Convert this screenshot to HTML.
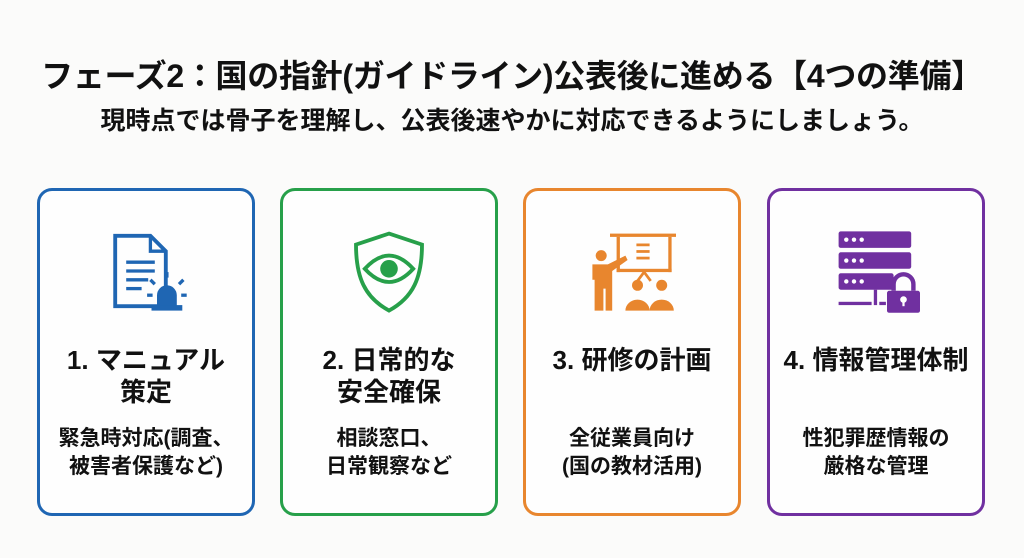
<!DOCTYPE html>
<html><head><meta charset="utf-8"><style>
body{margin:0;width:1024px;height:558px;background:#fbfbfa;font-family:"Liberation Sans","Noto Sans CJK JP",sans-serif;color:#111;position:relative;overflow:hidden}
.t{position:absolute;left:0;width:1024px;text-align:center;font-weight:bold;white-space:nowrap}
.card{position:absolute;top:188px;width:212px;height:322px;border:3px solid;border-radius:15px;box-sizing:content-box;background:#fefefe}
.ic{position:absolute;left:62px;top:36px;width:88px;height:88px}
.h{position:absolute;left:-10px;width:232px;text-align:center;font-weight:bold;font-size:26px;line-height:32px;top:153px;white-space:nowrap}
.d{position:absolute;left:-10px;width:232px;text-align:center;font-weight:bold;font-size:21px;line-height:28px;top:234px;white-space:nowrap}
</style></head><body>
<div class="t" style="top:51px;font-size:32px;letter-spacing:-0.3px">フェーズ2：国の指針(ガイドライン)公表後に進める【4つの準備】</div>
<div class="t" style="top:101px;font-size:25px">現時点では骨子を理解し、公表後速やかに対応できるようにしましょう。</div>

<div class="card" style="left:37px;border-color:#1f66b3">
<svg class="ic" viewBox="0 0 80 80"><path d="M12 8h32l14 14v50H12z" fill="none" stroke="#1f66b3" stroke-width="3.5"/><path d="M44 8v14h14" fill="none" stroke="#1f66b3" stroke-width="3"/><g stroke="#1f66b3" stroke-width="3"><line x1="22" y1="32" x2="48" y2="32"/><line x1="22" y1="40" x2="48" y2="40"/><line x1="22" y1="48" x2="42" y2="48"/><line x1="22" y1="56" x2="36" y2="56"/><line x1="46" y1="62" x2="41" y2="62"/><line x1="72" y1="62" x2="77" y2="62"/><line x1="48" y1="52" x2="44" y2="48"/><line x1="70" y1="52" x2="74" y2="48"/><line x1="59" y1="46" x2="59" y2="41"/></g><path d="M50 72v-10a9 9 0 0 1 18 0v10z" fill="#1f66b3"/><rect x="45" y="71" width="28" height="5" fill="#1f66b3"/></svg>
<div class="h">1. マニュアル<br>策定</div><div class="d">緊急時対応(調査、<br>被害者保護など)</div></div>

<div class="card" style="left:280px;border-color:#27a04a">
<svg class="ic" viewBox="0 0 80 80"><path d="M40 6l30 10c0 30-8 48-30 60C18 64 10 46 10 16z" fill="none" stroke="#27a04a" stroke-width="3.5"/><path d="M18 38q22-24 44 0q-22 24-44 0z" fill="none" stroke="#27a04a" stroke-width="3.5"/><circle cx="40" cy="38" r="8" fill="#27a04a"/></svg>
<div class="h">2. 日常的な<br>安全確保</div><div class="d">相談窓口、<br>日常観察など</div></div>

<div class="card" style="left:523px;border-color:#e8862e">
<svg class="ic" viewBox="0 0 80 80"><g fill="#e8862e"><rect x="20" y="6" width="60" height="3"/><rect x="26" y="9" width="3" height="32"/><rect x="73" y="9" width="3" height="32"/><rect x="26" y="38" width="50" height="3"/><rect x="44" y="15" width="12" height="2.5"/><rect x="44" y="21" width="12" height="2.5"/><rect x="44" y="27" width="12" height="2.5"/><circle cx="12" cy="26" r="5"/><path d="M4 34h14l16-8 2 4-14 10v36h-6V56h-2v20H6V48H4z"/><circle cx="45" cy="53" r="5"/><circle cx="67" cy="53" r="5"/><path d="M34 76a11 10 0 0 1 22 0zM56 76a11 10 0 0 1 22 0z"/></g><path d="M51 41l-6 8M51 41l6 8" stroke="#e8862e" stroke-width="2.5"/></svg>
<div class="h">3. 研修の計画</div><div class="d">全従業員向け<br>(国の教材活用)</div></div>

<div class="card" style="left:767px;border-color:#7030a0">
<svg class="ic" viewBox="0 0 80 80"><g fill="#7030a0"><rect x="6" y="4" width="66" height="15" rx="2"/><rect x="6" y="23" width="66" height="15" rx="2"/><rect x="6" y="42" width="50" height="15" rx="2"/><rect x="6" y="68" width="30" height="3"/><rect x="38" y="57" width="3" height="14"/><rect x="43" y="68" width="6" height="3"/><rect x="50" y="58" width="30" height="20" rx="2"/></g><path d="M56 58v-6a9 9 0 0 1 18 0v6" fill="none" stroke="#7030a0" stroke-width="4"/><g fill="#fff"><circle cx="13" cy="11.5" r="2"/><circle cx="20" cy="11.5" r="2"/><circle cx="27" cy="11.5" r="2"/><circle cx="13" cy="30.5" r="2"/><circle cx="20" cy="30.5" r="2"/><circle cx="27" cy="30.5" r="2"/><circle cx="13" cy="49.5" r="2"/><circle cx="20" cy="49.5" r="2"/><circle cx="27" cy="49.5" r="2"/><circle cx="65" cy="66" r="3"/><rect x="64" y="66" width="2" height="6"/></g></svg>
<div class="h">4. 情報管理体制</div><div class="d">性犯罪歴情報の<br>厳格な管理</div></div>
</body></html>
